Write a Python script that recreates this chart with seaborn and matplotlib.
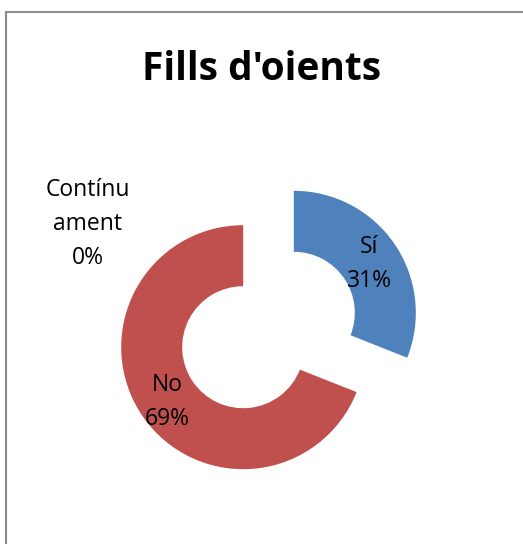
import matplotlib
matplotlib.use("Agg")
import matplotlib.pyplot as plt
import seaborn as sns
from matplotlib.patches import Rectangle

# data
categories = ["Sí", "No", "Contínu\nament"]
values = [31, 69, 0]
colors = ["#4F81BD", "#C0504D", "#9BBB59"]
title = "Fills d'oients"

sns.set_theme(style="white")
plt.rcParams['font.family'] = ['Open Sans', 'DejaVu Sans']
plt.rcParams['text.color'] = 'black'

W, H = 523, 544
fig = plt.figure(figsize=(W / 100, H / 100), dpi=100)
ax = fig.add_axes([0, 0, 1, 1])

R = 122
center = (268.5, H - 330)
explode = [30.6 if v > 0 else 0 for v in values]
labels = [f"{c}\n{v}%" for c, v in zip(categories, values)]

wedges, texts = ax.pie(values, colors=colors, startangle=90, counterclock=False,
                       radius=R, center=center, explode=explode,
                       labels=labels, labeldistance=0.75,
                       wedgeprops=dict(width=R * 0.5, linewidth=0),
                       textprops=dict(fontsize=16.5, color="black",
                                      linespacing=1.55),
                       frame=True)
ax.set_xlim(0, W)
ax.set_ylim(0, H)
ax.axis("off")
for t in texts:
    t.set_ha("center")
    t.set_va("center")
    x, y = t.get_position()
    t.set_position((x, y - 3))
# zero-value label placed outside to the upper-left, as in the original
texts[2].set_position((88, H - 224))

fig.text(0.5, 1 - 70 / H, title, ha="center", va="center",
         fontsize=28, fontweight="bold", color="black")

fig.patches.append(Rectangle((5.5, -20), 560, H - 11.5 + 20, transform=None,
                             fill=False, edgecolor="#8c8c8c", linewidth=1.5))

fig.savefig("out.png", dpi=100)
